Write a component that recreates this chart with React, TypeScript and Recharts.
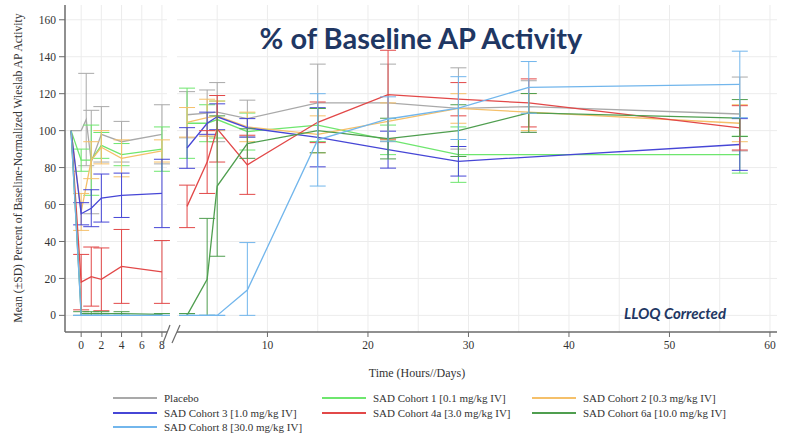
import React from 'react';
import { LineChart, Line, XAxis, YAxis, CartesianGrid, ErrorBar } from 'recharts';

// time points: hours after dose (left panel), days (right panel)
const hourTimes = [-1, 0, 0.5, 1, 2, 4, 8];
const dayTimes = [2, 4, 5, 8, 15, 22, 29, 36, 57];

const hourTicks = [0, 2, 4, 6, 8];
const dayTicks = [10, 20, 30, 40, 50, 60];
const yTicks = [0, 20, 40, 60, 80, 100, 120, 140, 160];
const yGrid = [0, 10, 20, 30, 40, 50, 60, 70, 80, 90, 100, 110, 120, 130, 140, 150, 160];
const hourGrid = [-1, 0, 1, 2, 3, 4, 5, 6, 7, 8];
const dayGrid = [5, 10, 15, 20, 25, 30, 35, 40, 45, 50, 55, 60];

// mean and SD per cohort (null = no sample)
const placeboHourMean = [100, 100, 106, 83, 98, 94, 98];
const placeboHourSd = [null, null, 25, 28, 15, 11, 16];
const placeboDayMean = [108.6, 109.5, 110, 106.5, 115, 115, 112, 113, 109];
const placeboDaySd = [12.5, 12.5, 16, 10, 21, 21, 22, 14, 20];

const c1HourMean = [100, 84, null, 84, 92, 87, 90];
const c1HourSd = [null, 6, null, 19, 7, 6, 12];
const c1DayMean = [104, 104, 106, 99.5, 103, 95, 87, null, 87];
const c1DaySd = [19, 10, 10, 10, 9, 8, 15, null, 10];

const c2HourMean = [100, 56, null, 84, 91, 85, 89];
const c2HourSd = [null, 10, null, 10, 9, 10, 6];
const c2DayMean = [104.5, 107, 108, 102, 98, 105, 112, 110, 104];
const c2DaySd = [8, 10, 8, 8, 10, 10, 8, 10, 10];

const c3HourMean = [100, 55, null, 58, 63.5, 65, 66];
const c3HourSd = [null, 6, null, 10, 13, 12, 18.5];
const c3DayMean = [90.6, 104, 107.5, 101.5, 96.4, 89.7, 83.4, null, 92.5];
const c3DaySd = [11, 6, 7, 5, 16, 10, 8, null, 14];

const c4aHourMean = [100, 18, null, 21, 19.5, 26.5, 23.5];
const c4aHourSd = [null, 15, null, 16, 17, 20, 17];
const c4aDayMean = [59, 83, 101, 81.5, 104.5, 119.5, 117, 115, 101.5];
const c4aDaySd = [11.5, 17, 18, 16, 11, 24, 9, 13, 12];

const c6aHourMean = [100, 1, null, 1, 1, 1, 0.5];
const c6aHourSd = [null, 1, null, 1, 1, 1, 0.5];
const c6aDayMean = [0, 19.5, 70, 93, 100, 95.7, 100, 109.6, 106.8];
const c6aDaySd = [1, 33, 38, 8, 12, 11, 14, 10.5, 10];

const c8HourMean = [100, 0, null, 0, 0, 0, 0];
const c8HourSd = [null, 0, null, 0, 0, 0, 0];
const c8DayMean = [0, 0, 0, 13.7, 95, 106.3, 112.2, 123.4, 125];
const c8DaySd = [0, 0, 0, 25.7, 25, 12, 17, 14, 18];

const series = [
  { name: 'Placebo', color: '#a9a9a9', hm: placeboHourMean, hs: placeboHourSd, dm: placeboDayMean, ds: placeboDaySd },
  { name: 'SAD Cohort 1 [0.1 mg/kg IV]', color: '#6ee66e', hm: c1HourMean, hs: c1HourSd, dm: c1DayMean, ds: c1DaySd },
  { name: 'SAD Cohort 2 [0.3 mg/kg IV]', color: '#f5c06a', hm: c2HourMean, hs: c2HourSd, dm: c2DayMean, ds: c2DaySd },
  { name: 'SAD Cohort 3 [1.0 mg/kg IV]', color: '#4646d6', hm: c3HourMean, hs: c3HourSd, dm: c3DayMean, ds: c3DaySd },
  { name: 'SAD Cohort 4a [3.0 mg/kg IV]', color: '#e24848', hm: c4aHourMean, hs: c4aHourSd, dm: c4aDayMean, ds: c4aDaySd },
  { name: 'SAD Cohort 6a [10.0 mg/kg IV]', color: '#4f9e4f', hm: c6aHourMean, hs: c6aHourSd, dm: c6aDayMean, ds: c6aDaySd },
  { name: 'SAD Cohort 8 [30.0 mg/kg IV]', color: '#72b6ec', hm: c8HourMean, hs: c8HourSd, dm: c8DayMean, ds: c8DaySd },
];

// lower whisker is cut at 0 like in the source figure
const toPoints = (times: number[], mean: (number | null)[], sd: (number | null)[]) =>
  times
    .map((t, i) => {
      const v = mean[i];
      const e = sd[i];
      return { t, v, err: v == null || e == null ? null : [Math.min(e, v), e] };
    })
    .filter((p) => p.v != null);

const Y_DOMAIN: [number, number] = [-9, 168];
const serif = '"Liberation Serif", "DejaVu Serif", serif';
const axisColor = '#6b6b6b';
const tickStyle = { fill: '#333', fontSize: 11.5, fontFamily: serif };

const renderLines = (which: 'h' | 'd') =>
  series.map((s) => {
    const pts = which === 'h' ? toPoints(hourTimes, s.hm, s.hs) : toPoints(dayTimes, s.dm, s.ds);
    return (
      <Line
        key={s.name}
        data={pts}
        dataKey="v"
        type="linear"
        stroke={s.color}
        strokeWidth={1.3}
        dot={false}
        isAnimationActive={false}
      >
        <ErrorBar dataKey="err" direction="y" width={8} stroke={s.color} strokeWidth={1} isAnimationActive={false} />
      </Line>
    );
  });

const App: React.FC = () => {
  return (
    <div style={{ position: 'absolute', left: 0, top: 0, width: 787, height: 439, background: '#fff', overflow: 'hidden' }}>
      {/* hours panel */}
      <div style={{ position: 'absolute', left: 0, top: 0 }}>
        <LineChart width={175} height={370} margin={{ top: 5, right: 8, left: 0, bottom: 8 }}>
          <CartesianGrid stroke="#ececec" horizontalValues={yGrid} verticalValues={hourGrid} />
          <XAxis
            dataKey="t"
            type="number"
            domain={[-1.6, 8.5]}
            ticks={hourTicks}
            allowDataOverflow
            height={30}
            tick={tickStyle}
            tickSize={5}
            tickMargin={4}
            stroke={axisColor}
            axisLine={{ stroke: axisColor, strokeWidth: 1.5 }}
          />
          <YAxis
            type="number"
            domain={Y_DOMAIN}
            ticks={yTicks}
            allowDataOverflow
            width={65}
            tick={tickStyle}
            tickSize={6}
            tickMargin={3}
            stroke={axisColor}
            axisLine={{ stroke: axisColor, strokeWidth: 1.5 }}
          />
          {renderLines('h')}
        </LineChart>
      </div>

      {/* days panel */}
      <div style={{ position: 'absolute', left: 170, top: 0 }}>
        <LineChart width={617} height={370} margin={{ top: 5, right: 10, left: 7, bottom: 8 }}>
          <CartesianGrid stroke="#ececec" horizontalValues={yGrid} verticalValues={dayGrid} />
          <XAxis
            dataKey="t"
            type="number"
            domain={[1, 60.7]}
            ticks={dayTicks}
            allowDataOverflow
            height={30}
            tick={tickStyle}
            tickSize={5}
            tickMargin={4}
            stroke={axisColor}
            axisLine={{ stroke: axisColor, strokeWidth: 1.5 }}
          />
          <YAxis type="number" domain={Y_DOMAIN} ticks={yTicks} allowDataOverflow hide />
          {renderLines('d')}
        </LineChart>
      </div>

      {/* axis break marks */}
      <svg width={787} height={439} style={{ position: 'absolute', left: 0, top: 0, pointerEvents: 'none' }}>
        <line x1={163} y1={343} x2={170} y2={325} stroke={axisColor} strokeWidth={1.2} />
        <line x1={172} y1={343} x2={180} y2={325} stroke={axisColor} strokeWidth={1.2} />
      </svg>

      <div
        style={{
          position: 'absolute',
          left: 18,
          top: 168,
          transform: 'translate(-50%, -50%) rotate(-90deg)',
          whiteSpace: 'nowrap',
          fontFamily: serif,
          fontSize: 11.7,
          color: '#333',
        }}
      >
        Mean (±SD) Percent of Baseline-Normalized Wieslab AP Activity
      </div>

      <div
        style={{
          position: 'absolute',
          left: 421,
          top: 37,
          transform: 'translate(-50%, -50%)',
          whiteSpace: 'nowrap',
          fontFamily: 'Lato, "Open Sans", sans-serif',
          fontWeight: 700,
          fontSize: 29,
          color: '#1f3763',
        }}
      >
        % of Baseline AP Activity
      </div>

      <div
        style={{
          position: 'absolute',
          left: 675,
          top: 313,
          transform: 'translate(-50%, -50%)',
          whiteSpace: 'nowrap',
          fontFamily: 'Lato, "Open Sans", sans-serif',
          fontWeight: 700,
          fontStyle: 'italic',
          fontSize: 15,
          color: '#1f3763',
        }}
      >
        LLOQ Corrected
      </div>

      <div
        style={{
          position: 'absolute',
          left: 417,
          top: 373,
          transform: 'translate(-50%, -50%)',
          whiteSpace: 'nowrap',
          fontFamily: serif,
          fontSize: 12,
          color: '#333',
        }}
      >
        Time (Hours//Days)
      </div>

      {/* legend, 3 columns */}
      {series.map((s, k) => {
        const colX = [113, 322, 532][k % 3];
        const rowY = [398, 412.5, 427][Math.floor(k / 3)];
        return (
          <div
            key={s.name}
            style={{ position: 'absolute', left: colX, top: rowY - 7, height: 14, display: 'flex', alignItems: 'center' }}
          >
            <div style={{ width: 44, height: 2, background: s.color, marginRight: 7 }} />
            <span style={{ fontFamily: serif, fontSize: 11, color: '#333', whiteSpace: 'nowrap' }}>{s.name}</span>
          </div>
        );
      })}
    </div>
  );
};

export default App;
